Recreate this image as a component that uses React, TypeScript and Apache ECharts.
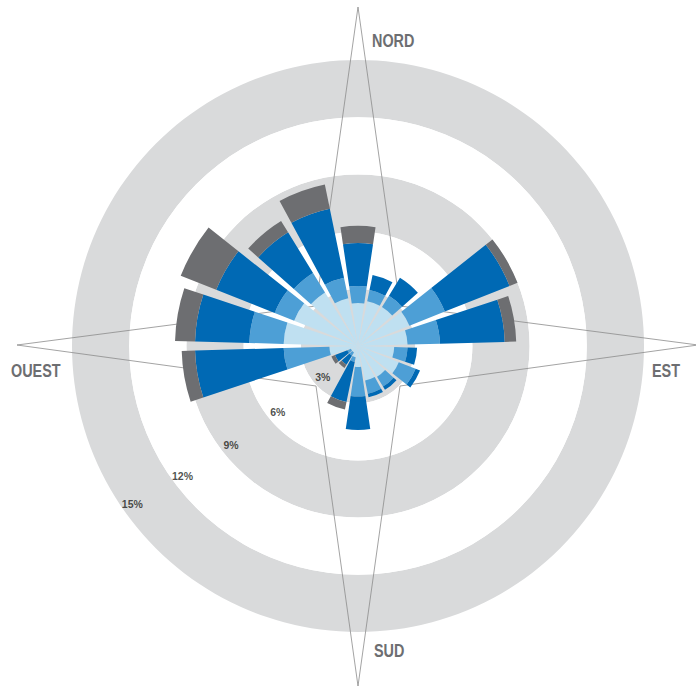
import React, { useEffect, useRef } from "react";
import * as echarts from "echarts";

// Wind directions (compass degrees, clockwise from north), 20° sectors
const directions = ["0°", "20°", "40°", "60°", "80°", "100°", "120°", "140°", "160°", "180°", "200°", "220°", "240°", "260°", "280°", "300°", "320°", "340°"];

// Frequency (%) per speed class, stacked from the centre outwards
const classe1 = [2.25, 2.4, 2.4, 2.9, 2.6, 1.9, 2.3, 1.9, 1.85, 1.1, 0.6, 0.4, 0.4, 1.5, 3.9, 3.6, 3.3, 2.55];
const classe2 = [0.9, 0.6, 0.7, 2.0, 1.7, 0.7, 0.95, 0.6, 0.7, 1.55, 0.25, 0.2, 0.2, 2.4, 1.8, 1.1, 1.2, 1.1];
const classe3 = [2.25, 0.8, 1.1, 3.65, 3.4, 0.5, 0.25, 0.2, 0.2, 1.75, 2.15, 0.55, 0.7, 4.65, 2.85, 3.3, 2.5, 3.7];
const classe4 = [0.9, 0, 0, 0.45, 0.6, 0, 0, 0, 0, 0, 0.4, 0.2, 0.2, 0.7, 1.05, 2.0, 0.7, 1.3];

// Ring ticks (%)
const ringTicks = [3, 6, 9, 12, 15];
const ringLabels = ["3%", "6%", "9%", "12%", "15%"];

// Cardinal labels
const cardinalLabels = ["NORD", "EST", "SUD", "OUEST"];

const seriesNames = ["Classe 1", "Classe 2", "Classe 3", "Classe 4"];
const seriesData = [classe1, classe2, classe3, classe4];
const seriesColors = ["#bfe0f1", "#4d9fd6", "#0069b4", "#6d6e71"];

export default function App() {
  const ref = useRef<HTMLDivElement>(null);

  useEffect(() => {
    if (!ref.current) return;
    const chart = echarts.init(ref.current, null, { renderer: "svg" });
    const cx = 358;
    const cy = 346;
    const R = 286;
    const font = "'Liberation Sans', Arial, sans-serif";

    const starPoints = [
      [cx, cy - 339],
      [cx + 42, cy - 40],
      [cx + 340, cy - 1],
      [cx + 42, cy + 40],
      [cx, cy + 340],
      [cx - 42, cy + 40],
      [cx - 341, cy - 1],
      [cx - 42, cy - 40],
    ];

    const cardinalPos = [
      [372, 40],
      [652, 370.5],
      [374, 650.5],
      [11, 370.5],
    ];

    const bars = seriesNames.map((name, i) => ({
      type: "bar",
      name,
      coordinateSystem: "polar",
      polarIndex: 0,
      stack: "rose",
      data: seriesData[i],
      barCategoryGap: "16%",
      itemStyle: { color: seriesColors[i] },
      z: 2,
    }));

    const labelData = ringTicks.map((t, i) => ({
      name: ringLabels[i],
      value: [t - 0.55, 229 + 1.5 * i],
    }));

    const option: any = {
      animation: false,
      backgroundColor: "#ffffff",
      polar: [
        { center: [cx, cy], radius: R },
        { center: [cx, cy], radius: R },
      ],
      angleAxis: [
        {
          polarIndex: 0,
          type: "category",
          data: directions,
          startAngle: 100,
          clockwise: true,
          axisLine: { show: false },
          axisTick: { show: false },
          axisLabel: { show: false },
          splitLine: { show: false },
          z: 0,
        },
        {
          polarIndex: 1,
          type: "value",
          min: 0,
          max: 360,
          startAngle: 90,
          clockwise: true,
          show: false,
        },
      ],
      radiusAxis: [
        {
          polarIndex: 0,
          type: "value",
          min: 0,
          max: 15,
          interval: 3,
          axisLine: { show: false },
          axisTick: { show: false },
          axisLabel: { show: false },
          splitLine: { show: false },
          splitArea: { show: true, areaStyle: { color: ["#d9dadb", "#ffffff"] } },
          z: 0,
        },
        {
          polarIndex: 1,
          type: "value",
          min: 0,
          max: 15,
          show: false,
        },
      ],
      series: [
        ...bars,
        {
          type: "scatter",
          coordinateSystem: "polar",
          polarIndex: 1,
          symbolSize: 0,
          data: labelData,
          z: 4,
          label: {
            show: true,
            position: "inside",
            formatter: "{b}",
            color: "#231f20",
            fontSize: 10.5,
            fontWeight: "bold",
            fontFamily: font,
          },
        },
      ],
      graphic: [
        {
          type: "polygon",
          z: 1,
          silent: true,
          shape: { points: starPoints },
          style: { fill: "none", stroke: "#8c8c8c", lineWidth: 0.8 },
        },
        ...cardinalLabels.map((txt, i) => ({
          type: "text",
          z: 5,
          x: cardinalPos[i][0],
          y: cardinalPos[i][1],
          scaleX: 0.8,
          style: {
            text: txt,
            fill: "#6d6e71",
            fontSize: 18,
            fontWeight: "bold",
            fontFamily: font,
            align: "left",
            verticalAlign: "middle",
          },
        })),
      ],
    };

    chart.setOption(option);
    return () => chart.dispose();
  }, []);

  return (
    <div
      ref={ref}
      style={{ position: "absolute", left: 0, top: 0, width: 696, height: 687 }}
    />
  );
}
